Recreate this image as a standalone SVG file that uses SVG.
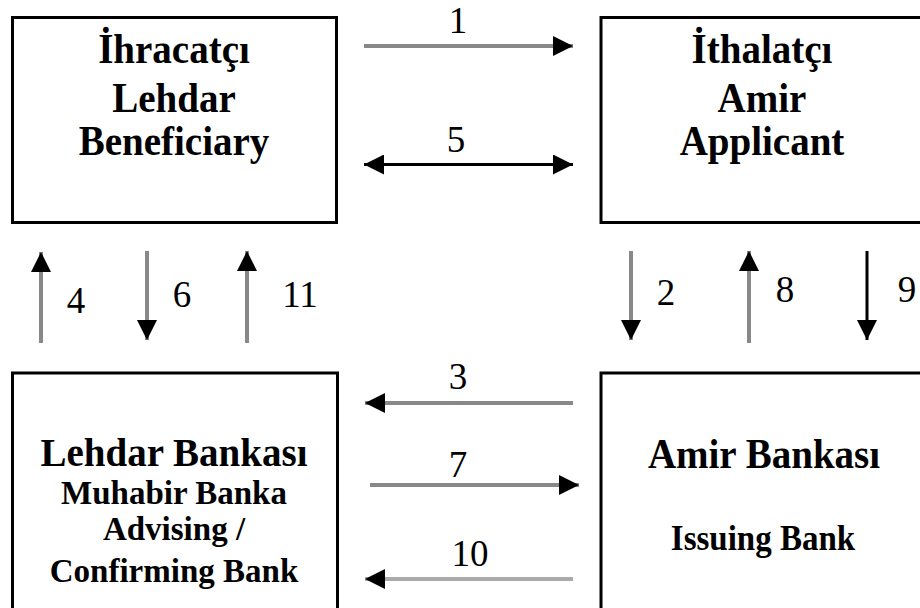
<svg xmlns="http://www.w3.org/2000/svg" width="920" height="608" viewBox="0 0 920 608">
<style>
.box{fill:#fff;stroke:#000;stroke-width:3}
.t1{font-family:'Liberation Serif','DejaVu Serif',serif;font-weight:bold;font-size:39px;fill:#000;text-anchor:middle}
.t2{font-family:'Liberation Serif','DejaVu Serif',serif;font-weight:bold;font-size:33px;fill:#000;text-anchor:middle}
.num{font-family:'Liberation Serif','DejaVu Serif',serif;font-size:37px;fill:#000;text-anchor:middle}
.g{stroke:#888;stroke-width:4;fill:none;marker-end:url(#ah)}
.lg{stroke:#aaa;stroke-width:4;fill:none;marker-end:url(#ah)}
.k{stroke:#000;stroke-width:3;fill:none;marker-end:url(#ah)}
</style>
<defs>
<marker id="ah" viewBox="0 0 20 20" refX="20" refY="10" markerWidth="20" markerHeight="20" markerUnits="userSpaceOnUse" orient="auto-start-reverse">
<path d="M0,0 L20,10 L0,20 Z" fill="#000"/>
</marker>
</defs>
<rect width="920" height="608" fill="#fff"/>
<g id="node-ihracatci">
<rect class="box" x="12.5" y="17.5" width="324" height="205"/>
<text class="t1" x="174" y="0" transform="translate(0,63) scale(1,1.08)">İhracatçı</text>
<text class="t1" x="174" y="0" transform="translate(0,112) scale(1,1.08)">Lehdar</text>
<text class="t1" x="174" y="0" transform="translate(0,155) scale(1,1.08)">Beneficiary</text>
</g>
<g id="node-ithalatci">
<rect class="box" x="601" y="17.5" width="340" height="205"/>
<text class="t1" x="762" y="0" transform="translate(0,63) scale(1,1.08)">İthalatçı</text>
<text class="t1" x="762" y="0" transform="translate(0,112) scale(1,1.08)">Amir</text>
<text class="t1" x="762" y="0" transform="translate(0,155) scale(1,1.08)">Applicant</text>
</g>
<g id="node-lehdar-bankasi">
<rect class="box" x="12.5" y="373" width="325" height="260"/>
<text class="t1" x="174" y="466">Lehdar Bankası</text>
<text class="t2" x="174" y="504">Muhabir Banka</text>
<text class="t2" x="174" y="540">Advising /</text>
<text class="t2" x="174" y="582">Confirming Bank</text>
</g>
<g id="node-amir-bankasi">
<rect class="box" x="601" y="373" width="340" height="260"/>
<text class="t1" x="764" y="0" transform="translate(0,468) scale(1,1.06)">Amir Bankası</text>
<text class="t2" x="763" y="0" transform="translate(0,550) scale(1,1.06)">Issuing Bank</text>
</g>
<g id="connectors">
<line class="g" x1="364" y1="46" x2="573" y2="46"/>
<line class="k" x1="364" y1="164.5" x2="573" y2="164.5" style="marker-start:url(#ah)"/>
<line class="g" x1="41" y1="343" x2="41" y2="252"/>
<line class="g" x1="147" y1="251" x2="147" y2="340"/>
<line class="g" x1="247" y1="343" x2="247" y2="251"/>
<line class="g" x1="631" y1="251" x2="631" y2="340"/>
<line class="g" x1="749" y1="343" x2="749" y2="251"/>
<line class="k" x1="867" y1="251" x2="867" y2="340"/>
<line class="g" x1="573" y1="403" x2="365" y2="403"/>
<line class="g" x1="370" y1="485" x2="579" y2="485"/>
<line class="lg" x1="573" y1="579" x2="365" y2="579"/>
<text class="num" x="458" y="33">1</text>
<text class="num" x="456" y="152">5</text>
<text class="num" x="76" y="313">4</text>
<text class="num" x="182" y="307">6</text>
<text class="num" x="300" y="307">11</text>
<text class="num" x="666" y="305">2</text>
<text class="num" x="785" y="302">8</text>
<text class="num" x="907" y="302">9</text>
<text class="num" x="458" y="389">3</text>
<text class="num" x="458" y="477">7</text>
<text class="num" x="470" y="566">10</text>
</g>
</svg>
